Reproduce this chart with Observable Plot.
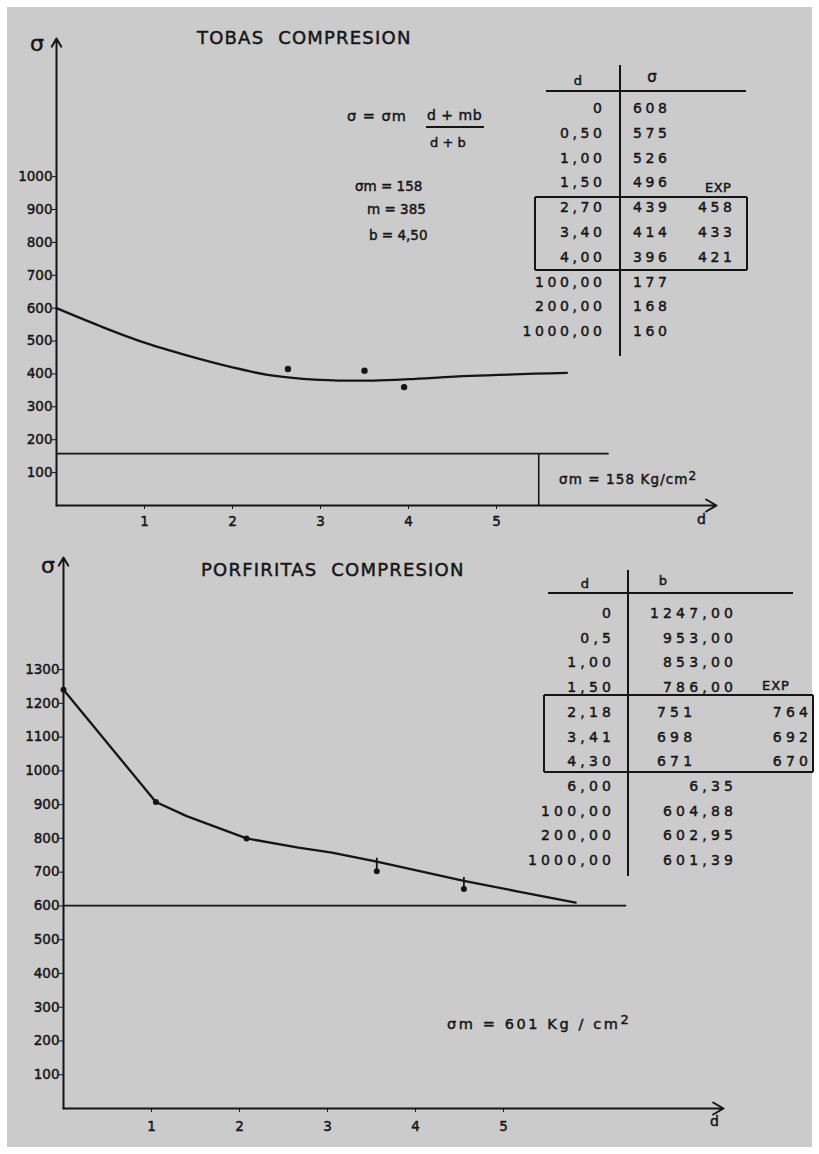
<!DOCTYPE html>
<html>
<head>
<meta charset="utf-8">
<script src="https://cdn.jsdelivr.net/npm/d3@7"></script>
<script src="https://cdn.jsdelivr.net/npm/@observablehq/plot@0.6"></script>
<style>
  html, body { margin: 0; padding: 0; background: #fff; }
  #page { position: relative; width: 819px; height: 1154px; overflow: hidden; background: #fff;
          font-family: "DejaVu Sans", sans-serif; color: #151515; }
  #paper { position: absolute; left: 7px; top: 7px; width: 805px; height: 1140px; background: #cbcbcb; }
  .abs { position: absolute; white-space: nowrap; line-height: 1; -webkit-text-stroke: 0.45px #151515; }
  .ln { position: absolute; background: #151515; }
  .sup { position: relative; top: -0.35em; font-size: 0.9em; }
  #page svg text { stroke: #151515; stroke-width: 0.45px; }
</style>
</head>
<body>
<div id="page"><div id="paper"></div></div>
<script>
// ---------------- DATA: TOBAS COMPRESION ----------------
const tobasTitle = "TOBAS COMPRESION";
const tobasYTicks = [100, 200, 300, 400, 500, 600, 700, 800, 900, 1000];
const tobasXTicks = [1, 2, 3, 4, 5];
const tobasDMax = 7.5;
const tobasSMax = 1420;
// fitted curve
const tobasCurveD = [0, 0.5, 1.0, 1.5, 2.0, 2.4, 2.8, 3.2, 3.6, 4.0, 4.7, 5.8];
const tobasCurveS = [600, 545, 495, 455, 420, 397, 385, 380, 380, 384, 394, 403];
// experimental points
const tobasExpD = [2.63, 3.5, 3.95];
const tobasExpS = [415, 410, 360];
// asymptote sigma_m
const tobasSigmaM = 158;
const tobasSigmaMEnd = 6.28;
const tobasDropD = 5.48;
// table
const tobasTableD = ["0", "0,50", "1,00", "1,50", "2,70", "3,40", "4,00", "100,00", "200,00", "1000,00"];
const tobasTableS = ["608", "575", "526", "496", "439", "414", "396", "177", "168", "160"];
const tobasTableExp = ["", "", "", "", "458", "433", "421", "", "", ""];

// ---------------- DATA: PORFIRITAS COMPRESION ----------------
const porfTitle = "PORFIRITAS COMPRESION";
const porfYTicks = [100, 200, 300, 400, 500, 600, 700, 800, 900, 1000, 1100, 1200, 1300];
const porfXTicks = [1, 2, 3, 4, 5];
const porfDMax = 7.5;
const porfSMax = 1632;
const porfCurveD = [0, 1.05, 1.4, 2.08, 2.67, 3.05, 3.56, 4.55, 5.14, 5.82];
const porfCurveS = [1240, 908, 866, 800, 773, 758, 731, 674, 644, 610];
const porfNodeD = [0, 1.05, 2.08];
const porfNodeS = [1240, 908, 800];
const porfExpD = [3.56, 4.55];
const porfExpS = [703, 650];
const porfExpFitS = [731, 674];
const porfSigmaM = 601;
const porfSigmaMEnd = 6.4;
const porfTableD = ["0", "0,5", "1,00", "1,50", "2,18", "3,41", "4,30", "6,00", "100,00", "200,00", "1000,00"];
const porfTableB = ["1247,00", "953,00", "853,00", "786,00", "751", "698", "671", "6,35", "604,88", "602,95", "601,39"];
const porfTableExp = ["", "", "", "", "764", "692", "670", "", "", "", ""];
const porfBoxRows = [4, 5, 6];

// ---------------- helpers ----------------
const page = document.getElementById("page");
const INK = "#151515";
const zip = (xs, ys) => xs.map((x, i) => ({d: x, s: ys[i]}));

function text(html, x, y, {size = 13, anchor = "start", ls = 0, ws = 0} = {}) {
  const el = document.createElement("div");
  el.className = "abs";
  el.innerHTML = html;
  el.style.left = (anchor === "end" ? x + ls : x) + "px";
  el.style.top = y + "px";
  el.style.fontSize = size + "px";
  el.style.letterSpacing = ls + "px";
  el.style.wordSpacing = ws + "px";
  const tx = anchor === "end" ? "-100%" : anchor === "middle" ? "-50%" : "0";
  el.style.transform = `translate(${tx}, -50%)`;
  page.appendChild(el);
  return el;
}
function hline(x1, x2, y, w = 1.7) {
  const el = document.createElement("div");
  el.className = "ln";
  Object.assign(el.style, {left: x1 + "px", top: (y - w / 2) + "px", width: (x2 - x1) + "px", height: w + "px"});
  page.appendChild(el);
}
function vline(x, y1, y2, w = 1.7) {
  const el = document.createElement("div");
  el.className = "ln";
  Object.assign(el.style, {left: (x - w / 2) + "px", top: y1 + "px", width: w + "px", height: (y2 - y1) + "px"});
  page.appendChild(el);
}
function box(x1, y1, x2, y2, w = 1.7) {
  hline(x1, x2, y1, w); hline(x1, x2, y2, w); vline(x1, y1, y2, w); vline(x2, y1, y2, w);
}
const svgStyle = {background: "transparent", fontFamily: "DejaVu Sans, sans-serif", fontSize: "13.5px", color: INK, overflow: "visible"};
const fmt = d => String(d);

// ---------------- TOP PLOT ----------------
const topPlot = Plot.plot({
  width: 819, height: 540,
  marginLeft: 56, marginRight: 103, marginTop: 38, marginBottom: 35,
  style: svgStyle,
  x: {domain: [0, tobasDMax], ticks: tobasXTicks, tickSize: 4, tickPadding: 7, label: null, tickFormat: fmt},
  y: {domain: [0, tobasSMax], ticks: tobasYTicks, tickSize: 4, tickPadding: 0, label: null, tickFormat: fmt},
  marks: [
    Plot.arrow([{x1: 0, y1: 0, x2: tobasDMax, y2: 0}], {x1: "x1", y1: "y1", x2: "x2", y2: "y2", stroke: INK, strokeWidth: 2, headLength: 9}),
    Plot.arrow([{x1: 0, y1: 0, x2: 0, y2: tobasSMax}], {x1: "x1", y1: "y1", x2: "x2", y2: "y2", stroke: INK, strokeWidth: 2, headLength: 7}),
    Plot.ruleY([tobasSigmaM], {x1: 0, x2: tobasSigmaMEnd, stroke: INK, strokeWidth: 1.8}),
    Plot.ruleX([tobasDropD], {y1: 0, y2: tobasSigmaM, stroke: INK, strokeWidth: 1.6}),
    Plot.line(zip(tobasCurveD, tobasCurveS), {x: "d", y: "s", curve: "catmull-rom", stroke: INK, strokeWidth: 2.3}),
    Plot.dot(zip(tobasExpD, tobasExpS), {x: "d", y: "s", r: 3.2, fill: INK, stroke: "none"})
  ]
});
topPlot.style.position = "absolute"; topPlot.style.left = "0px"; topPlot.style.top = "0px";
page.appendChild(topPlot);

// ---------------- BOTTOM PLOT ----------------
const botPlot = Plot.plot({
  width: 819, height: 614,
  marginLeft: 63, marginRight: 96, marginTop: 17, marginBottom: 46,
  style: svgStyle,
  x: {domain: [0, porfDMax], ticks: porfXTicks, tickSize: 4, tickPadding: 9, label: null, tickFormat: fmt},
  y: {domain: [0, porfSMax], ticks: porfYTicks, tickSize: 4, tickPadding: 0, label: null, tickFormat: fmt},
  marks: [
    Plot.arrow([{x1: 0, y1: 0, x2: porfDMax, y2: 0}], {x1: "x1", y1: "y1", x2: "x2", y2: "y2", stroke: INK, strokeWidth: 2, headLength: 9}),
    Plot.arrow([{x1: 0, y1: 0, x2: 0, y2: porfSMax}], {x1: "x1", y1: "y1", x2: "x2", y2: "y2", stroke: INK, strokeWidth: 2, headLength: 7}),
    Plot.ruleY([porfSigmaM], {x1: 0, x2: porfSigmaMEnd, stroke: INK, strokeWidth: 1.8}),
    Plot.line(zip(porfCurveD, porfCurveS), {x: "d", y: "s", stroke: INK, strokeWidth: 2.3}),
    Plot.dot(zip(porfNodeD, porfNodeS), {x: "d", y: "s", r: 3, fill: INK, stroke: "none"}),
    Plot.link(porfExpD.map((d, i) => ({d, s1: porfExpS[i], s2: porfExpFitS[i] + 12})), {x1: "d", x2: "d", y1: "s1", y2: "s2", stroke: INK, strokeWidth: 1.8}),
    Plot.dot(zip(porfExpD, porfExpS), {x: "d", y: "s", r: 3, fill: INK, stroke: "none"})
  ]
});
botPlot.style.position = "absolute"; botPlot.style.left = "0px"; botPlot.style.top = "540px";
page.appendChild(botPlot);

// ---------------- TOP TEXT ----------------
text(tobasTitle, 197, 38, {size: 18, ls: 1.2, ws: 7});
text("σ", 30, 44, {size: 22});
text("d", 697, 519, {size: 14});
// formula
text("σ = σm", 347, 116, {size: 14.5, ls: 1});
text("d + mb", 427, 115, {size: 14, ls: 0.5});
hline(426, 484, 127, 1.4);
text("d + b", 430, 142, {size: 13});
text("σm = 158", 355, 187, {size: 13.5});
text("m = 385", 367, 210, {size: 13.5});
text("b = 4,50", 369, 236, {size: 13.5});
text('σm = 158 Kg/cm<span class="sup">2</span>', 559, 480, {size: 13.5, ls: 1.1});

// top table
text("d", 578, 80, {size: 13, anchor: "middle"});
text("σ", 652, 77, {size: 15, anchor: "middle"});
hline(546, 746, 91);
vline(620, 65, 356);
text("EXP", 705, 187, {size: 13, ls: 0.5});
tobasTableD.forEach((v, i) => {
  const y = 108 + i * 24.8;
  text(v, 602, y, {size: 14, anchor: "end", ls: 3.6});
  text(tobasTableS[i], 633, y, {size: 14, ls: 3.6});
  if (tobasTableExp[i]) text(tobasTableExp[i], 698, y, {size: 14, ls: 3.6});
});
box(535, 197, 747, 270);

// ---------------- BOTTOM TEXT ----------------
text(porfTitle, 201, 570, {size: 18, ls: 1.2, ws: 7});
text("σ", 41, 566, {size: 22});
text("d", 710, 1121, {size: 14});
text('σm = 601 Kg / cm<span class="sup">2</span>', 447, 1024, {size: 14.5, ls: 2.6});

text("d", 585, 583, {size: 13, anchor: "middle"});
text("b", 663, 580, {size: 13, anchor: "middle"});
hline(548, 793, 593);
vline(628, 570, 876);
text("EXP", 762, 685, {size: 13, ls: 1});
porfTableD.forEach((v, i) => {
  const y = 613 + i * 24.7;
  text(v, 611, y, {size: 14, anchor: "end", ls: 4.2});
  if (porfBoxRows.includes(i)) text(porfTableB[i], 657, y, {size: 14, ls: 4.2});
  else text(porfTableB[i], 733, y, {size: 14, anchor: "end", ls: 4.2});
  if (porfTableExp[i]) text(porfTableExp[i], 808, y, {size: 14, anchor: "end", ls: 4.2});
});
box(544, 695, 813, 772);
</script>
</body>
</html>
